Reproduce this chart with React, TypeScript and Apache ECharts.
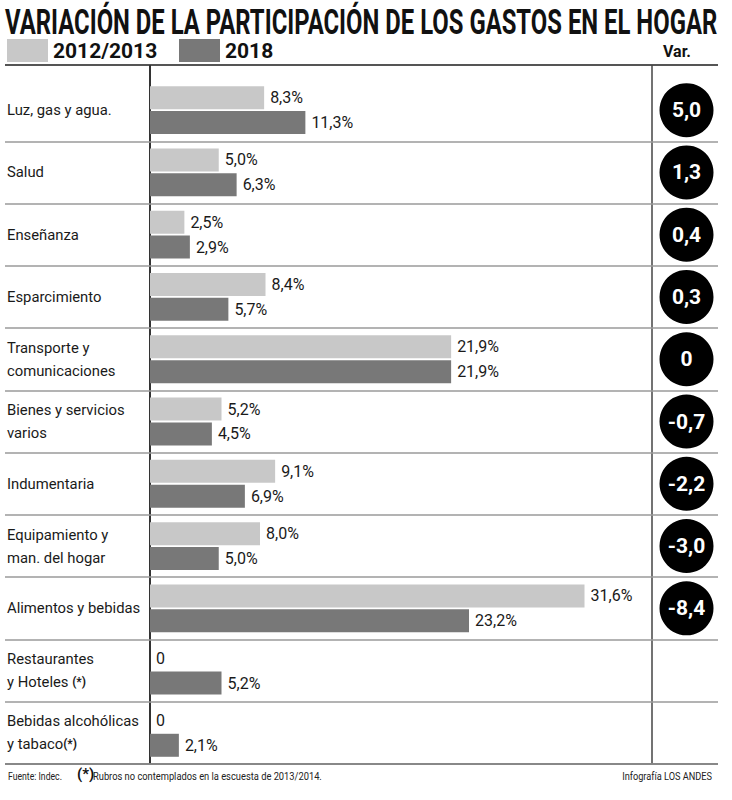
import React, { useEffect, useRef } from "react";
import * as echarts from "echarts";

const categories = [
  "Luz, gas y agua.",
  "Salud",
  "Enseñanza",
  "Esparcimiento",
  "Transporte y\ncomunicaciones",
  "Bienes y servicios\nvarios",
  "Indumentaria",
  "Equipamiento y\nman. del hogar",
  "Alimentos y bebidas",
  "Restaurantes\ny Hoteles (*)",
  "Bebidas alcohólicas\ny tabaco(*)",
];
const values2012 = [8.3, 5.0, 2.5, 8.4, 21.9, 5.2, 9.1, 8.0, 31.6, 0, 0];
const values2018 = [11.3, 6.3, 2.9, 5.7, 21.9, 4.5, 6.9, 5.0, 23.2, 5.2, 2.1];
const variations: (number | null)[] = [5.0, 1.3, 0.4, 0.3, 0, -0.7, -2.2, -3.0, -8.4, null, null];
const seriesNames = ["2012/2013", "2018"];

const TITLE = "VARIACIÓN DE LA PARTICIPACIÓN DE LOS GASTOS EN EL HOGAR";
const SOURCE = "Fuente: Indec.";
const NOTE = "Rubros no contemplados en la escuesta de 2013/2014.";
const CREDIT = "Infografía LOS ANDES";

const FONT = "Roboto, 'Noto Sans', sans-serif";
const LIGHT = "#c8c8c8";
const DARK = "#787878";

const fmtPct = (v: number) => (v === 0 ? "0" : v.toFixed(1).replace(".", ",") + "%");
const fmtVar = (v: number) => (v === 0 ? "0" : v.toFixed(1).replace(".", ","));

const GRID_TOP = 79;
const GRID_H = 685;

function measure(text: string, font: string): number {
  const ctx = document.createElement("canvas").getContext("2d");
  if (!ctx) return text.length * 8;
  ctx.font = font;
  return ctx.measureText(text).width;
}

export default function App() {
  const ref = useRef<HTMLDivElement>(null);
  useEffect(() => {
    if (!ref.current) return;
    const chart = echarts.init(ref.current, undefined, { renderer: "svg" });

    const titleScale = 713 / measure(TITLE, "bold 36px Roboto");
    const labelSize = Math.min(17, (16 * 132) / measure("Bebidas alcohólicas", "16px Roboto"));
    const srcScale = 54 / measure(SOURCE, "11px Roboto");
    const noteScale = 229 / measure(NOTE, "11px Roboto");
    const creditScale = 90 / measure(CREDIT, "11px Roboto");
    const legendTextW = measure(seriesNames[0], "bold 21px Roboto");
    const legendGap = Math.max(8, 179 - (7 + 41 + 5 + legendTextW));

    const catAxisBase = {
      type: "category" as const,
      data: categories,
      inverse: true,
      axisTick: { show: false },
      axisLine: { show: false },
    };
    chart.setOption({
      animation: false,
      backgroundColor: "#ffffff",
      textStyle: { fontFamily: FONT },
      legend: {
        left: 7,
        top: 39,
        padding: 0,
        itemWidth: 41,
        itemHeight: 23,
        itemGap: legendGap,
        icon: "rect",
        data: seriesNames,
        selectedMode: false,
        textStyle: { fontFamily: FONT, fontSize: 21, fontWeight: "bold", color: "#111" },
      },
      grid: [
        { left: 150, top: GRID_TOP, height: GRID_H, width: 495 },
        { left: 659, top: GRID_TOP, height: GRID_H, width: 55 },
        { left: 5, top: GRID_TOP, height: GRID_H, width: 713 },
      ],
      xAxis: [
        { type: "value", gridIndex: 0, min: 0, max: 36, show: false },
        { type: "value", gridIndex: 1, min: -1, max: 1, show: false },
        { type: "value", gridIndex: 2, min: 0, max: 1, show: false },
      ],
      yAxis: [
        {
          ...catAxisBase,
          gridIndex: 0,
          axisLabel: {
            align: "left",
            margin: 143,
            fontFamily: FONT,
            fontSize: labelSize,
            lineHeight: 23,
            color: "#1a1a1a",
            formatter: (name: string) => name.replace("(*)", "{ast|(*)}"),
            rich: {
              ast: { fontFamily: FONT, fontSize: 12, fontWeight: "bold", color: "#1a1a1a", lineHeight: 23 },
            },
          },
        },
        { ...catAxisBase, gridIndex: 1, axisLabel: { show: false } },
        {
          ...catAxisBase,
          gridIndex: 2,
          axisLabel: { show: false },
          splitLine: {
            show: true,
            interval: (index: number) => index !== 0,
            lineStyle: { color: "#9a9a9a", width: 1.5 },
          },
        },
      ],
      series: [
        {
          name: seriesNames[0],
          type: "bar",
          xAxisIndex: 0,
          yAxisIndex: 0,
          data: values2012,
          barWidth: 23,
          barGap: "8%",
          itemStyle: { color: LIGHT },
          label: {
            show: true,
            position: "right",
            distance: 6,
            fontFamily: FONT,
            fontSize: 16,
            color: "#1a1a1a",
            formatter: (p: any) => fmtPct(p.value),
          },
        },
        {
          name: seriesNames[1],
          type: "bar",
          xAxisIndex: 0,
          yAxisIndex: 0,
          data: values2018,
          barWidth: 23,
          itemStyle: { color: DARK },
          label: {
            show: true,
            position: "right",
            distance: 6,
            fontFamily: FONT,
            fontSize: 16,
            color: "#1a1a1a",
            formatter: (p: any) => fmtPct(p.value),
          },
        },
        {
          type: "scatter",
          xAxisIndex: 1,
          yAxisIndex: 1,
          symbol: "circle",
          symbolSize: 54,
          itemStyle: { color: "#000000", opacity: 1 },
          data: variations
            .map((v, i) => (v === null ? null : [0, i, v]))
            .filter((d) => d !== null),
          label: {
            show: true,
            position: "inside",
            fontFamily: FONT,
            fontSize: 21,
            fontWeight: "bold",
            color: "#ffffff",
            formatter: (p: any) => fmtVar(p.value[2]),
          },
        },
      ],
      graphic: [
        {
          type: "text",
          x: 5,
          y: 4,
          scaleX: titleScale,
          style: {
            text: TITLE,
            fontFamily: "Roboto",
            fontSize: 36,
            fontWeight: "bold",
            fill: "#111",
            verticalAlign: "top",
          },
        },
        {
          type: "text",
          x: 663,
          y: 43,
          style: { text: "Var.", fontFamily: FONT, fontSize: 16, fontWeight: "bold", fill: "#111", verticalAlign: "top" },
        },
        { type: "line", shape: { x1: 5, y1: 65, x2: 718, y2: 65 }, style: { stroke: "#555", lineWidth: 2 } },
        { type: "line", shape: { x1: 5, y1: 764, x2: 718, y2: 764 }, style: { stroke: "#555", lineWidth: 2 } },
        { type: "line", shape: { x1: 150, y1: 65, x2: 150, y2: 764 }, style: { stroke: "#333", lineWidth: 2 } },
        { type: "line", shape: { x1: 652, y1: 65, x2: 652, y2: 764 }, style: { stroke: "#444", lineWidth: 1.5 } },
        {
          type: "text",
          x: 8,
          y: 776,
          scaleX: srcScale,
          style: { text: SOURCE, fontFamily: "Roboto", fontSize: 11, fill: "#222", verticalAlign: "middle" },
        },
        {
          type: "text",
          x: 77,
          y: 774,
          style: { text: "(*)", fontFamily: FONT, fontSize: 15, fontWeight: "bold", fill: "#111", verticalAlign: "middle" },
        },
        {
          type: "text",
          x: 93,
          y: 776,
          scaleX: noteScale,
          style: { text: NOTE, fontFamily: "Roboto", fontSize: 11, fill: "#222", verticalAlign: "middle" },
        },
        {
          type: "text",
          x: 712,
          y: 776,
          scaleX: creditScale,
          style: { text: CREDIT, fontFamily: "Roboto", fontSize: 11, fill: "#222", align: "right", verticalAlign: "middle" },
        },
      ],
    });
    return () => chart.dispose();
  }, []);
  return (
    <div
      ref={ref}
      style={{ position: "absolute", left: 0, top: 0, width: 732, height: 800, background: "#fff" }}
    />
  );
}
